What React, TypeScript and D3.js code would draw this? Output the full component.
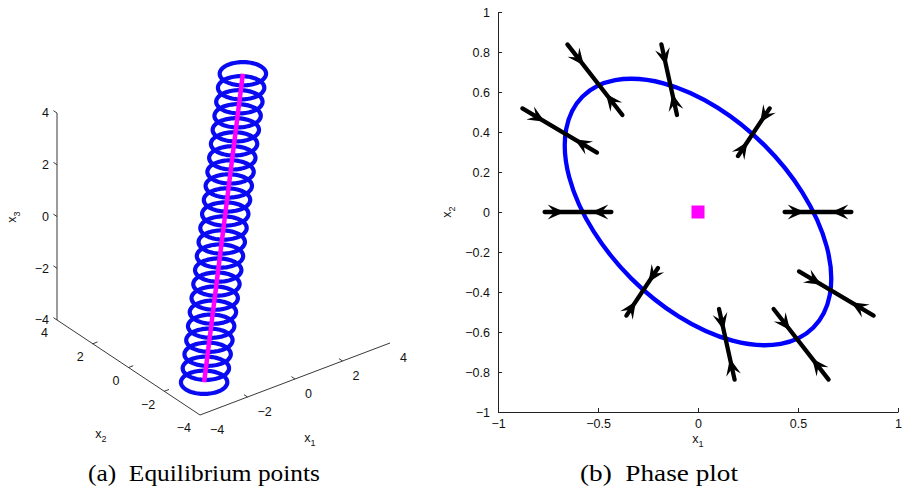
import React, { useEffect, useRef } from "react";
import * as d3 from "d3";

const W = 904;
const H = 501;
const SANS = "'Liberation Sans', Arial, Helvetica, sans-serif";
const SERIF = "'Liberation Serif', 'Times New Roman', serif";

// ---- (a) equilibrium points, 3-D view ----
const axis3Ticks = [-4, -2, 0, 2, 4];
// magenta line of equilibria along (1,1,1), ends
const eqLineFrom = [-3.3, -3.3, -3.3];
const eqLineTo = [3.3, 3.3, 3.3];
// blue orbits: one ring in each x3 = const plane, centred on the line
const ringLevels = [
  -3.3, -3.0, -2.7, -2.4, -2.1, -1.8, -1.5, -1.2, -0.9, -0.6, -0.3, 0,
  0.3, 0.6, 0.9, 1.2, 1.5, 1.8, 2.1, 2.4, 2.7, 3.0, 3.3,
];
const ringRadius = 0.78;

// ---- (b) phase plot ----
const phaseXTicks = [-1, -0.5, 0, 0.5, 1];
const phaseYTicks = [-1, -0.8, -0.6, -0.4, -0.2, 0, 0.2, 0.4, 0.6, 0.8, 1];
// limit cycle ellipse
const cycleCenter = [0, 0];
const cycleSemiMajor = 0.816;
const cycleSemiMinor = 0.471;
const cycleTiltDeg = 45; // major axis along (1,-1)
const equilibrium = [0, 0];
// short trajectories crossing the cycle
const flowStart = [
  [-0.878, 0.518], [-0.653, 0.838], [-0.183, 0.838], [0.358, 0.518], [-0.767, 0],
  [0.767, 0], [-0.358, -0.518], [0.183, -0.838], [0.653, -0.838], [0.878, -0.518],
];
const flowEnd = [
  [-0.505, 0.297], [-0.378, 0.485], [-0.105, 0.485], [0.2, 0.28], [-0.433, 0],
  [0.433, 0], [-0.2, -0.28], [0.105, -0.485], [0.378, -0.485], [0.505, -0.297],
];

// 3-D projection: one scale per screen offset
const corner = [200, 415];
const s1x = d3.scaleLinear().domain([-4, 4]).range([0, 190]);
const s1y = d3.scaleLinear().domain([-4, 4]).range([0, -72]);
const s2x = d3.scaleLinear().domain([-4, 4]).range([0, -143]);
const s2y = d3.scaleLinear().domain([-4, 4]).range([0, -95]);
const s3y = d3.scaleLinear().domain([-4, 4]).range([0, -207]);
const proj = (p: number[]): [number, number] => [
  corner[0] + s1x(p[0]) + s2x(p[1]),
  corner[1] + s1y(p[0]) + s2y(p[1]) + s3y(p[2]),
];

const px = d3.scaleLinear().domain([-1, 1]).range([498, 898]);
const py = d3.scaleLinear().domain([-1, 1]).range([412, 12]);

// ring in the x3 = c plane around (c, c, c)
function ringPoints(c: number) {
  return d3.range(0, 2 * Math.PI + 0.001, Math.PI / 48).map((a) =>
    proj([c + ringRadius * Math.cos(a), c + ringRadius * Math.sin(a), c])
  );
}

// concave arrowhead, tip at `tip`, pointing along `dir`
function arrowHead(tip: number[], dir: number[]) {
  const L = 17, Wd = 7.5;
  const nx = -dir[1], ny = dir[0];
  const bx = tip[0] - dir[0] * L, by = tip[1] - dir[1] * L;
  const mx = tip[0] - dir[0] * L * 0.6, my = tip[1] - dir[1] * L * 0.6;
  return `M${tip[0]},${tip[1]}L${bx + nx * Wd},${by + ny * Wd}L${mx},${my}L${bx - nx * Wd},${by - ny * Wd}Z`;
}

export default function App() {
  const xAxisRef = useRef<SVGGElement>(null);
  const yAxisRef = useRef<SVGGElement>(null);

  useEffect(() => {
    const fmt = d3.format("");
    const gx = d3.select(xAxisRef.current!);
    gx.call(d3.axisBottom(px).tickValues(phaseXTicks).tickSizeInner(-4).tickSizeOuter(0).tickPadding(7).tickFormat((d) => fmt(d as number)));
    const gy = d3.select(yAxisRef.current!);
    gy.call(d3.axisLeft(py).tickValues(phaseYTicks).tickSizeInner(-4).tickSizeOuter(0).tickPadding(8).tickFormat((d) => fmt(d as number)));
    [gx, gy].forEach((g) => {
      g.attr("font-size", 12.5).attr("font-family", SANS);
      g.selectAll("text").attr("fill", "#111");
      g.selectAll("path,line").attr("stroke", "#222");
    });
  }, []);

  const line = d3.line();
  const eqPath = line([proj(eqLineFrom), proj(eqLineTo)]) || "";

  const origin3 = proj([-4, -4, -4]);
  const x1End = proj([4, -4, -4]);
  const x2End = proj([-4, 4, -4]);
  const x3Top = proj([-4, 4, 4]);

  return (
    <svg width={W} height={H} style={{ position: "absolute", left: 0, top: 0, background: "#fff" }}>
      {/* ---------- (a) ---------- */}
      <g fill="none" stroke="#222" strokeWidth={0.9}>
        <path d={line([x3Top, x2End, origin3, x1End]) || ""} />
        {axis3Ticks.map((t) => {
          const a = proj([-4, 4, t]);
          const b = proj([-4, 4.2, t]);
          return <line key={"z" + t} x1={a[0]} y1={a[1]} x2={b[0]} y2={b[1]} />;
        })}
        {axis3Ticks.slice(1, -1).map((t) => {
          const a = proj([-4, t, -4]);
          const b = proj([-3.8, t, -4]);
          return <line key={"y" + t} x1={a[0]} y1={a[1]} x2={b[0]} y2={b[1]} />;
        })}
        {axis3Ticks.slice(1, -1).map((t) => {
          const a = proj([t, -4, -4]);
          const b = proj([t, -3.8, -4]);
          return <line key={"x" + t} x1={a[0]} y1={a[1]} x2={b[0]} y2={b[1]} />;
        })}
      </g>
      <g fontFamily={SANS} fontSize={12.5} fill="#111">
        {axis3Ticks.map((t) => {
          const a = proj([-4, 4, t]);
          return (
            <text key={"zl" + t} x={a[0] - 8} y={a[1]} textAnchor="end" dy="0.35em">
              {d3.format("")(t)}
            </text>
          );
        })}
        {axis3Ticks.map((t) => {
          const a = proj([-4, t, -4]);
          return (
            <text key={"yl" + t} x={a[0] - 9} y={a[1] + 13} textAnchor="end" dy="0.35em">
              {d3.format("")(t)}
            </text>
          );
        })}
        {axis3Ticks.map((t) => {
          const a = proj([t, -4, -4]);
          return (
            <text key={"xl" + t} x={a[0] + 10} y={a[1] + 15} textAnchor="start" dy="0.35em">
              {d3.format("")(t)}
            </text>
          );
        })}
        <text x={310} y={442} textAnchor="middle">
          x<tspan fontSize={9} dy={4}>1</tspan>
        </text>
        <text x={101} y={438} textAnchor="middle">
          x<tspan fontSize={9} dy={4}>2</tspan>
        </text>
        <text transform="translate(16,217) rotate(-90)" textAnchor="middle">
          x<tspan fontSize={9} dy={4}>3</tspan>
        </text>
      </g>
      <g fill="none" stroke="#0a0af2" strokeWidth={4.2}>
        {ringLevels.map((c) => (
          <path key={"r" + c} d={(line(ringPoints(c)) || "") + "Z"} />
        ))}
      </g>
      <path d={eqPath} fill="none" stroke="#ff00ff" strokeWidth={4.5} />

      {/* ---------- (b) ---------- */}
      <g ref={yAxisRef} transform={`translate(${px(-1)},0)`} />
      <g ref={xAxisRef} transform={`translate(0,${py(-1)})`} />
      <ellipse
        cx={px(cycleCenter[0])}
        cy={py(cycleCenter[1])}
        rx={px(cycleSemiMajor) - px(0)}
        ry={px(cycleSemiMinor) - px(0)}
        transform={`rotate(${cycleTiltDeg},${px(cycleCenter[0])},${py(cycleCenter[1])})`}
        fill="none"
        stroke="#0000ff"
        strokeWidth={4.3}
      />
      {flowStart.map((s, i) => {
        const a = [px(s[0]), py(s[1])];
        const b = [px(flowEnd[i][0]), py(flowEnd[i][1])];
        const len = Math.hypot(b[0] - a[0], b[1] - a[1]);
        const d = [(b[0] - a[0]) / len, (b[1] - a[1]) / len];
        const t1 = [a[0] + d[0] * len * 0.3, a[1] + d[1] * len * 0.3];
        const t2 = [b[0] - d[0] * len * 0.3, b[1] - d[1] * len * 0.3];
        return (
          <g key={"f" + i}>
            <line x1={a[0]} y1={a[1]} x2={b[0]} y2={b[1]} stroke="#000" strokeWidth={4.3} strokeLinecap="round" />
            <path d={arrowHead(t1, d)} fill="#000" />
            <path d={arrowHead(t2, [-d[0], -d[1]])} fill="#000" />
          </g>
        );
      })}
      <rect x={px(equilibrium[0]) - 6.5} y={py(equilibrium[1]) - 6.5} width={13} height={13} fill="#ff00ff" />
      <g fontFamily={SANS} fontSize={12.5} fill="#111">
        <text x={px(0)} y={443} textAnchor="middle">
          x<tspan fontSize={9} dy={4}>1</tspan>
        </text>
        <text transform={`translate(451,${py(0)}) rotate(-90)`} textAnchor="middle">
          x<tspan fontSize={9} dy={4}>2</tspan>
        </text>
      </g>

      {/* captions */}
      <g fontFamily={SERIF} fontSize={23} fill="#000">
        <text x={88} y={481} textLength={232} lengthAdjust="spacingAndGlyphs" xmlSpace="preserve">(a)  Equilibrium points</text>
        <text x={580} y={481} textLength={158} lengthAdjust="spacingAndGlyphs" xmlSpace="preserve">(b)  Phase plot</text>
      </g>
    </svg>
  );
}
